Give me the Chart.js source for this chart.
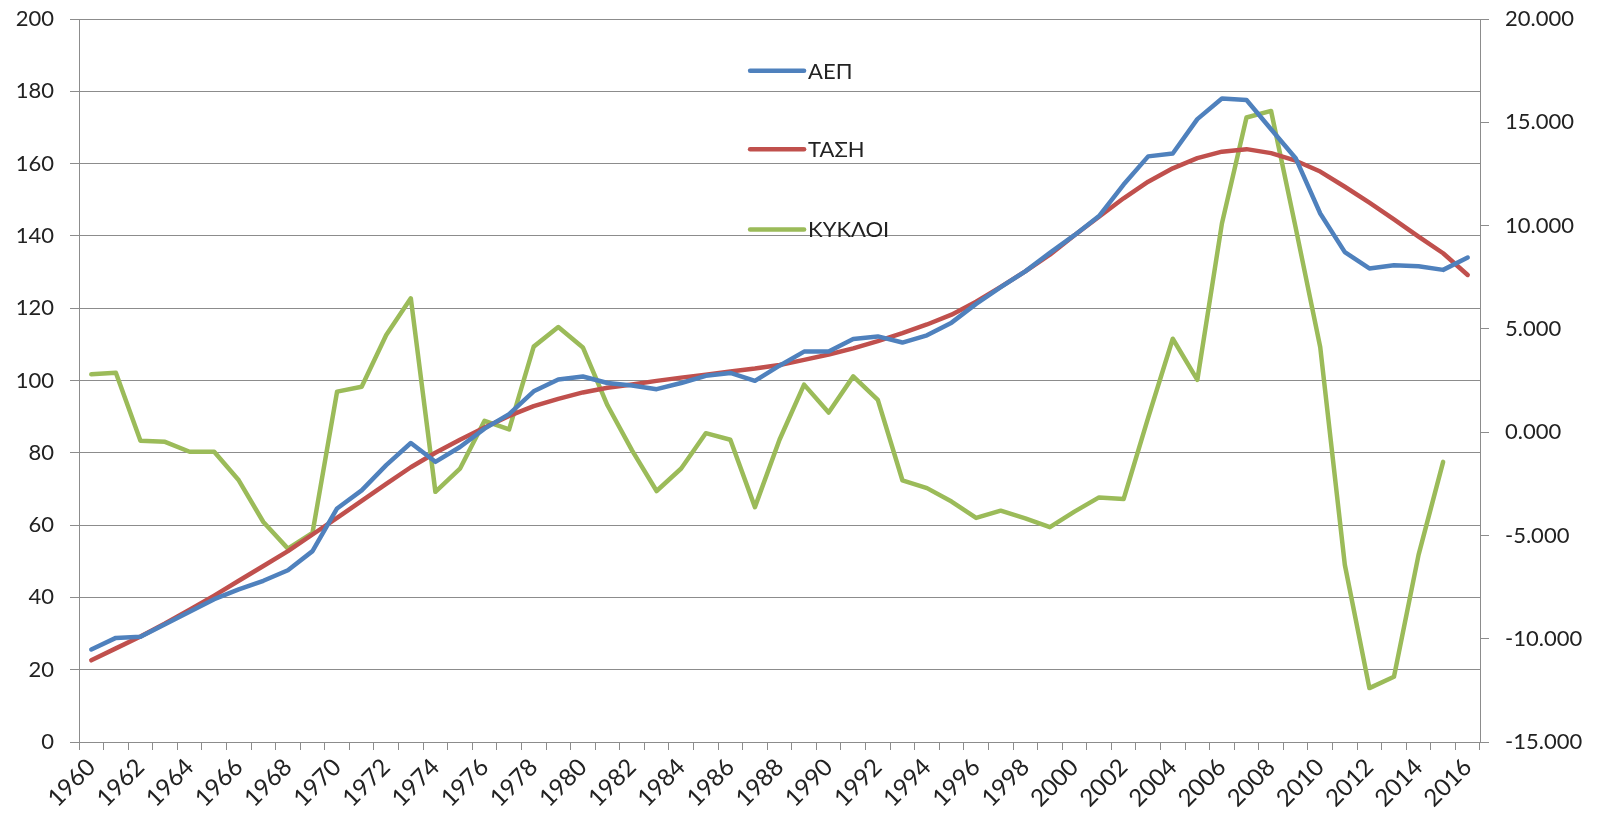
<!DOCTYPE html>
<html>
<head>
<meta charset="utf-8">
<script src="https://cdn.jsdelivr.net/npm/chart.js@4/dist/chart.umd.min.js"></script>
<style>
  html, body { margin: 0; padding: 0; background: #fff; }
  canvas { display: block; }
</style>
</head>
<body>
<canvas id="chart" width="1604" height="815"></canvas>
<script>
// Data
const years = [];
for (let y = 1960; y <= 2016; y++) years.push(String(y));

// ΑΕΠ (left axis)
const aep = [
  25.6, 28.8, 29.1, 32.6, 36.0, 39.5, 42.2, 44.6, 47.5, 52.8,
  64.6, 69.6, 76.6, 82.7, 77.5, 81.6, 86.7, 90.7, 97.0, 100.3,
  101.1, 99.3, 98.6, 97.6, 99.3, 101.3, 102.1, 99.9, 104.1, 108.0,
  108.0, 111.5, 112.2, 110.5, 112.5, 116.0, 121.2, 125.8, 130.2, 135.3,
  140.2, 145.5, 154.2, 162.0, 162.8, 172.3, 178.0, 177.6, 169.5, 161.5,
  146.2, 135.5, 131.0, 131.9, 131.6, 130.6, 134.0
];

// ΤΑΣΗ (left axis)
const tash = [
  22.6, 25.9, 29.2, 32.8, 36.6, 40.5, 44.6, 48.7, 52.8, 57.4,
  62.0, 66.7, 71.4, 76.0, 80.0, 83.6, 87.0, 90.2, 92.9, 94.9,
  96.7, 98.0, 98.9, 99.9, 100.8, 101.6, 102.5, 103.3, 104.3, 105.7,
  107.2, 108.9, 110.9, 113.1, 115.5, 118.2, 121.8, 125.9, 130.2, 134.8,
  140.2, 145.3, 150.4, 155.0, 158.7, 161.5, 163.3, 164.0, 162.9, 160.8,
  157.8, 153.6, 149.2, 144.6, 139.8, 135.2, 129.2
];

// ΚΥΚΛΟΙ (right axis)
const kykloi = [
  2.80, 2.88, -0.42, -0.47, -0.95, -0.95, -2.33, -4.35, -5.64, -4.88,
  1.96, 2.20, 4.70, 6.48, -2.89, -1.77, 0.55, 0.13, 4.14, 5.09,
  4.10, 1.30, -0.88, -2.85, -1.76, -0.05, -0.37, -3.63, -0.37, 2.30,
  0.95, 2.70, 1.56, -2.33, -2.71, -3.36, -4.15, -3.80, -4.17, -4.60,
  -3.85, -3.16, -3.24, 0.70, 4.52, 2.53, 10.10, 15.23, 15.55, 9.90,
  4.11, -6.42, -12.39, -11.84, -5.94, -1.44, null
];

const seriesNames = ['ΑΕΠ', 'ΤΑΣΗ', 'ΚΥΚΛΟΙ'];
const seriesColors = ['#4F81BD', '#C0504D', '#9BBB59'];

const gridColor = '#8c8c8c';
const textColor = '#222';
const fontFamily = 'Lato, "Open Sans", sans-serif';

// Legend drawn inside the plot area, stacked with big gaps
const innerLegend = {
  id: 'innerLegend',
  afterDraw(chart) {
    const ctx = chart.ctx;
    const area = chart.chartArea;
    const x0 = area.left + area.width * 0.479;
    const rows = [0.0715, 0.180, 0.291];
    ctx.save();
    ctx.font = '22px ' + fontFamily;
    ctx.textBaseline = 'middle';
    chart.data.datasets.forEach((ds, i) => {
      const y = area.top + area.height * rows[i];
      ctx.strokeStyle = ds.borderColor;
      ctx.lineWidth = 4.5;
      ctx.lineCap = 'round';
      ctx.beginPath();
      ctx.moveTo(x0, y);
      ctx.lineTo(x0 + 54, y);
      ctx.stroke();
      ctx.fillStyle = textColor;
      ctx.fillText(ds.label, x0 + 58, y + 1);
    });
    ctx.restore();
  }
};

// fixed axis sizes, no automatic label padding
function fixSize(w, h) {
  return (s) => {
    if (w) s.width = w;
    if (h) s.height = h;
    s.paddingTop = 0;
    s.paddingBottom = 0;
    s.paddingLeft = 0;
    s.paddingRight = 0;
  };
}

new Chart(document.getElementById('chart'), {
  type: 'line',
  data: {
    labels: years,
    datasets: [
      { label: seriesNames[0], data: aep, yAxisID: 'y', borderColor: seriesColors[0] },
      { label: seriesNames[1], data: tash, yAxisID: 'y', borderColor: seriesColors[1] },
      { label: seriesNames[2], data: kykloi, yAxisID: 'y1', borderColor: seriesColors[2] }
    ]
  },
  options: {
    responsive: false,
    animation: false,
    layout: { padding: { top: 19, right: 0, left: 0, bottom: 0 } },
    elements: {
      point: { radius: 0 },
      line: { borderWidth: 4.5, tension: 0, borderCapStyle: 'round', borderJoinStyle: 'round' }
    },
    plugins: {
      legend: { display: false },
      tooltip: { enabled: false }
    },
    scales: {
      x: {
        type: 'category',
        offset: true,
        grid: { offset: true, drawOnChartArea: false, drawTicks: true, tickLength: 8, color: gridColor },
        border: { color: gridColor },
        ticks: {
          autoSkip: false,
          maxRotation: 45,
          minRotation: 45,
          padding: 3,
          color: textColor,
          font: { family: fontFamily, size: 24 },
          callback: (v, i) => (i % 2 === 0 ? years[i] : '')
        },
        afterFit: fixSize(0, 73)
      },
      y: {
        position: 'left',
        min: 0,
        max: 200,
        grid: { color: gridColor, tickLength: 9 },
        border: { color: gridColor },
        ticks: {
          stepSize: 20,
          padding: 16,
          color: textColor,
          font: { family: fontFamily, size: 22 }
        },
        afterFit: fixSize(79, 0)
      },
      y1: {
        position: 'right',
        min: -15,
        max: 20,
        grid: { drawOnChartArea: false, color: gridColor, tickLength: 9 },
        border: { color: gridColor },
        ticks: {
          stepSize: 5,
          padding: 16,
          color: textColor,
          font: { family: fontFamily, size: 22 },
          callback: (v) => Number(v).toFixed(3)
        },
        afterFit: fixSize(124, 0)
      }
    }
  },
  plugins: [innerLegend]
});
</script>
</body>
</html>
